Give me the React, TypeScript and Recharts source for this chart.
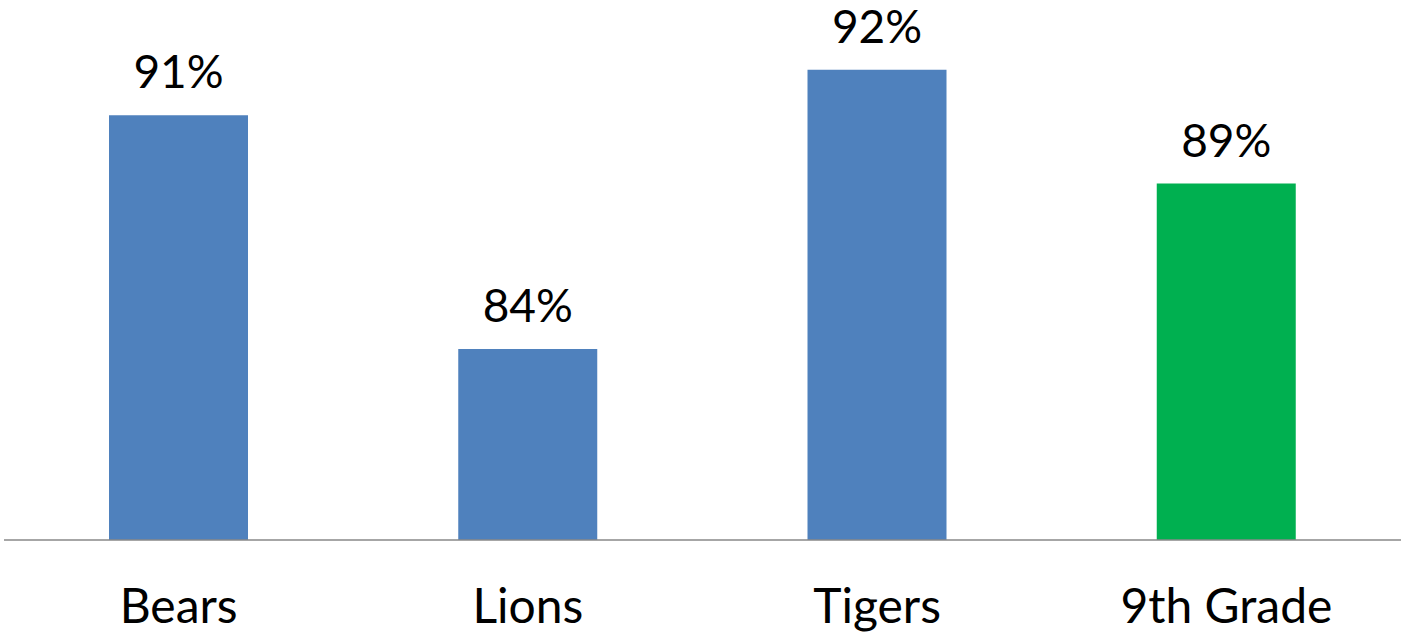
import React from "react";
import { BarChart, Bar, XAxis, YAxis, Cell, LabelList } from "recharts";

const categories = ["Bears", "Lions", "Tigers", "9th Grade"];
const values = [90.68, 83.7, 92.04, 88.64];
const highlightCategory = "9th Grade";

const data = categories.map((name, i) => ({ name, value: values[i] }));

const BLUE = "#4F81BD";
const GREEN = "#00B050";
const FONT = "Lato, 'Noto Sans', sans-serif";

const Tick = (props: any) => {
  const { x, y, payload } = props;
  return (
    <text x={x} y={y + 83} textAnchor="middle" fill="#000" fontSize={48} fontFamily={FONT}>
      {payload.value}
    </text>
  );
};

export default function App() {
  return (
    <div style={{ position: "absolute", left: 0, top: 0, background: "#fff" }}>
      <BarChart
        width={1408}
        height={636}
        data={data}
        margin={{ top: 4, right: 7, bottom: 0, left: 4 }}
      >
        <XAxis
          dataKey="name"
          height={96}
          tickLine={false}
          tickSize={0}
          tickMargin={0}
          axisLine={{ stroke: "#898989", strokeWidth: 1.5 }}
          tick={<Tick />}
          interval={0}
        />
        <YAxis hide domain={[78, 94]} allowDataOverflow />
        <Bar dataKey="value" barSize={139} isAnimationActive={false}>
          {data.map((d) => (
            <Cell key={d.name} fill={d.name === highlightCategory ? GREEN : BLUE} />
          ))}
          <LabelList
            dataKey="value"
            position="top"
            offset={27}
            formatter={(v: any) => `${Math.round(Number(v))}%`}
            style={{ fontSize: 46, fontFamily: FONT, fill: "#000" }}
            fill="#000"
          />
        </Bar>
      </BarChart>
    </div>
  );
}
